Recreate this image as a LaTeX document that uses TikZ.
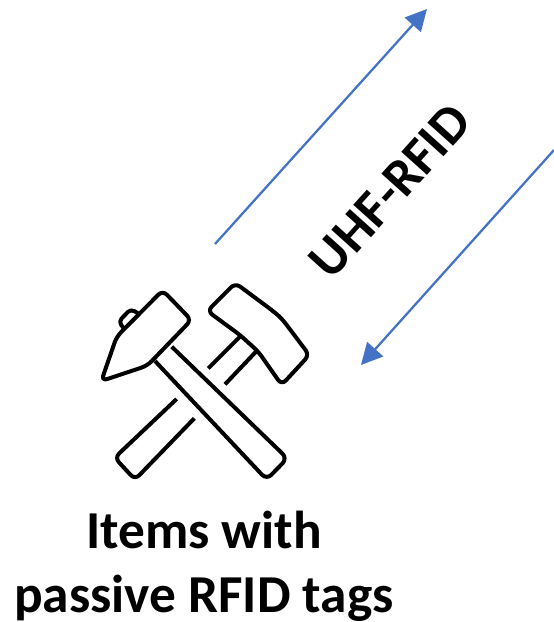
\documentclass[tikz,border=0pt]{standalone}
\usepackage{fontspec}
\setmainfont{Carlito}
\usetikzlibrary{arrows.meta}
\tikzset{
  wave/.style={draw=arrowblue,line width=1.7pt,-{Triangle[length=16pt,width=16pt]},shorten >=0pt},
  tool/.style={draw=black,line width=3pt,line join=round,line cap=butt,rounded corners=4.5pt},
  bar/.style={draw=black,line width=3pt,line cap=butt},
  lab/.style={font=\bfseries\fontsize{40}{48}\selectfont,text=black,inner sep=0pt,align=center}
}
\definecolor{arrowblue}{HTML}{4472C4}
\begin{document}
\begin{tikzpicture}[x=0.75pt,y=-0.75pt]
\useasboundingbox (0,0) rectangle (554,622);
\coordinate (a1) at (215,244);
\coordinate (a2) at (427,9);
\coordinate (b1) at (554,150);
\coordinate (b2) at (361,365);
\draw[wave] (a1) -- (a2);
\draw[wave] (b1) -- (b2);
\node[lab,rotate=48] (rf) at (390,191) {UHF-RFID};
\node[lab] (cap) at (204,566) {Items with\\passive RFID tags};
\begin{scope}[shift={(90,275)},scale=1/3]
  % left hammer head
  \draw[tool] (218,46) -- (304,135) -- (172,272) -- (34,318) -- (80,185) -- cycle;
  \draw[tool,rounded corners=3pt] (100,158) -- (86,140) -- (122,102) -- (146,116);
  % left hammer handle
  \draw[tool,rounded corners=5pt] (245,215) -- (592,550) -- (530,614) -- (195,258);
  % right hammer head
  \draw[tool] (436,24) -- (545,105) -- (575,130) -- (658,240) -- (575,330) -- (505,230) -- (450,180) -- (352,108) -- cycle;
  % right hammer handle stubs
  \draw[bar] (452,183) -- (355,280);
  \draw[bar] (498,230) -- (405,328);
  % lower handle
  \draw[tool] (260,372) -- (74,548) -- (135,614) -- (313,430);
\end{scope}
\end{tikzpicture}
\end{document}
